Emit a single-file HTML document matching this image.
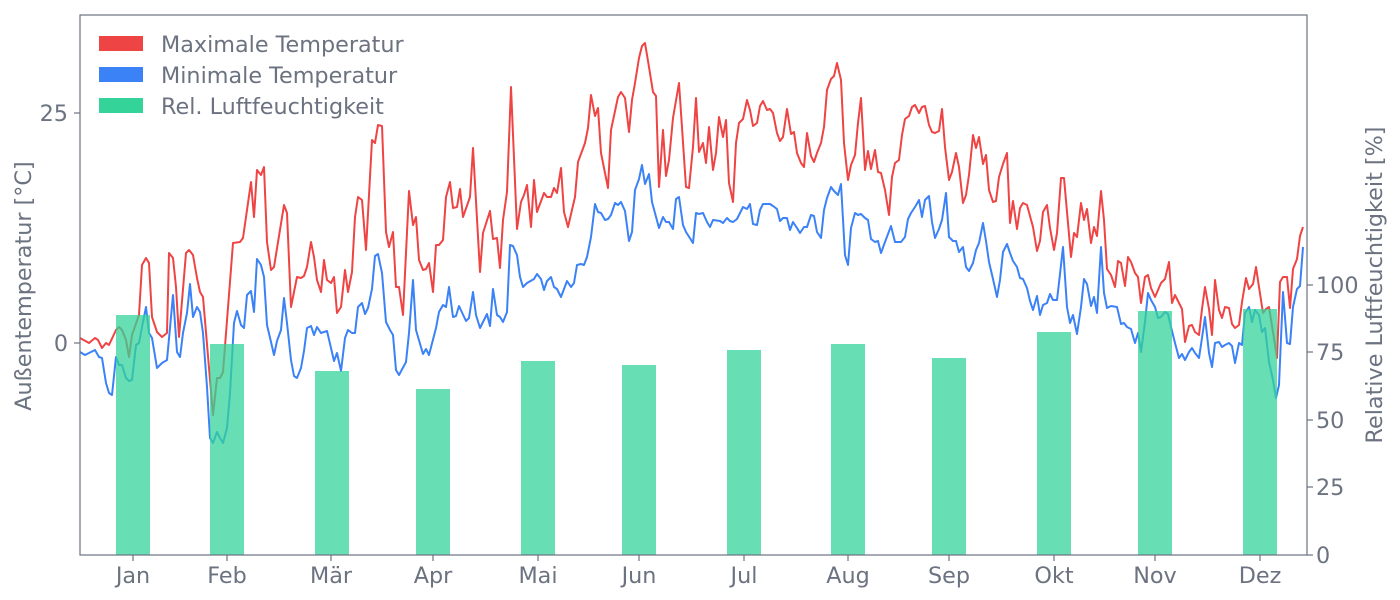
<!DOCTYPE html>
<html><head><meta charset="utf-8"><style>
html,body{margin:0;padding:0;background:#fff;}
svg{display:block;font-family:"DejaVu Sans","Liberation Sans",sans-serif;}
</style></head><body>
<svg width="1400" height="600" viewBox="0 0 1400 600">
<g fill="none" stroke-width="2" stroke-linejoin="round">
<polyline stroke="#ef4444" points="80,338 89,343 95,338 98,340 102,348 106,343 109,345 116,330 119,327 122,330 126,340 129,357 132,335 139,315 142,265 146,258 149,263 152,317 157,332 162,337 167,333 169,253 173,258 176,287 179,337 186,253 189,250 193,255 197,278 200,292 203,297 213,415 217,378 220,378 223,372 233,243 240,242 243,238 251,182 254,217 257,170 261,175 264,167 267,242 271,270 274,267 284,205 287,213 291,307 297,277 301,278 304,276 307,267 311,242 314,257 317,280 321,292 324,260 327,280 331,283 334,277 337,313 341,307 345,270 348,292 352,272 355,217 358,197 362,200 366,250 372,140 375,143 378,125 382,126 386,232 389,247 393,232 396,287 399,287 403,315 409,191 413,225 416,217 419,260 423,270 426,269 429,263 433,292 436,245 439,245 443,240 446,197 450,182 453,208 457,207 460,189 463,217 470,197 473,148 480,272 483,233 490,211 493,239 497,238 500,268 503,220 507,192 511,87 517,229 521,202 524,195 527,185 531,227 534,180 537,212 544,193 547,197 551,197 554,188 557,193 561,168 564,212 568,227 575,197 578,162 585,143 588,128 591,95 595,116 598,108 601,153 608,188 611,130 618,97 621,92 625,98 629,132 632,100 635,83 639,58 642,46 645,43 649,67 653,92 656,96 659,187 663,130 666,176 669,160 673,118 679,83 686,187 689,188 693,147 696,98 699,152 703,143 706,163 709,127 713,170 716,153 719,117 723,137 726,120 729,183 733,202 736,143 739,123 743,119 747,100 750,110 753,126 757,123 760,106 763,101 767,110 770,109 773,113 777,133 780,141 783,137 787,109 791,134 794,132 797,153 801,163 804,167 807,133 811,156 814,162 817,153 821,143 824,127 827,90 831,79 834,76 837,63 841,80 844,143 848,180 851,165 855,155 858,123 861,98 865,170 868,151 871,169 875,150 878,172 881,173 885,190 889,215 892,177 895,163 899,160 902,135 905,119 909,116 912,107 915,105 919,113 922,107 925,106 929,125 932,132 935,133 939,131 942,109 945,147 949,180 952,172 956,153 959,167 963,203 966,195 969,175 973,135 976,148 979,137 983,164 986,155 989,190 993,202 996,201 999,177 1003,164 1007,153 1010,223 1013,201 1017,229 1020,208 1023,203 1027,205 1033,227 1037,251 1040,241 1043,212 1047,205 1050,228 1054,250 1057,233 1061,178 1064,178 1071,257 1074,233 1077,237 1081,203 1084,220 1087,209 1091,243 1094,227 1097,236 1101,191 1104,220 1107,269 1111,275 1115,287 1118,261 1121,263 1125,286 1128,257 1131,262 1135,273 1138,277 1141,303 1145,277 1148,275 1151,288 1155,297 1158,290 1161,283 1165,279 1169,262 1172,303 1175,295 1179,303 1182,309 1185,342 1189,326 1192,325 1195,332 1199,335 1202,309 1205,287 1209,309 1212,335 1215,280 1219,310 1222,318 1225,307 1229,308 1232,324 1235,328 1239,325 1242,302 1246,278 1249,289 1253,284 1256,267 1259,287 1263,313 1266,309 1269,307 1273,332 1277,358 1280,282 1283,277 1287,277 1290,308 1293,269 1297,259 1300,236 1303,227"/>
<polyline stroke="#3b82f6" points="80,352 85,355 89,353 95,350 99,357 102,358 106,383 109,393 112,395 116,357 119,365 122,365 126,378 129,381 132,380 136,345 139,343 142,327 146,307 149,333 152,338 157,368 162,363 167,360 170,328 173,295 177,352 180,357 183,333 187,313 190,284 193,317 197,307 200,312 203,333 207,387 210,438 213,443 217,432 220,438 223,443 227,428 230,393 234,323 237,311 241,325 244,328 247,295 251,291 254,312 257,259 261,265 264,277 267,325 271,342 274,355 277,341 281,330 284,298 287,323 291,360 294,376 297,378 301,368 304,351 307,328 311,326 314,335 317,327 321,333 327,331 331,348 334,361 337,353 341,371 345,338 348,330 352,333 355,333 358,307 362,303 365,314 368,308 372,289 375,256 378,254 382,273 386,322 390,330 393,335 396,370 399,375 406,362 409,333 413,280 416,330 423,354 426,349 429,355 436,328 439,312 443,305 446,307 449,287 453,317 456,316 459,306 466,321 469,318 473,292 476,315 480,328 487,314 490,326 493,289 497,315 500,317 503,322 507,312 510,245 513,246 517,255 520,277 523,287 527,283 534,279 537,274 541,279 544,290 547,281 551,277 554,287 557,289 561,297 567,281 571,287 574,283 577,265 581,264 584,265 587,257 591,237 595,204 598,212 601,213 605,220 608,219 611,215 615,203 618,205 621,202 625,211 629,241 632,232 635,190 639,179 642,165 645,184 649,174 652,202 659,228 663,217 666,222 669,222 673,229 676,199 679,197 683,225 686,232 693,243 696,213 699,214 703,213 707,222 710,227 713,220 720,221 723,223 727,218 730,221 733,222 737,219 740,213 743,207 747,209 750,204 753,224 757,225 760,210 763,204 770,204 773,206 777,209 780,221 783,218 787,218 790,230 793,222 797,228 800,233 804,227 807,227 811,215 814,216 817,232 821,238 824,210 827,198 831,187 834,191 838,195 841,184 845,255 848,265 851,228 855,213 858,215 861,214 865,218 868,220 871,239 875,242 878,241 881,253 885,242 891,226 895,242 901,242 905,237 908,219 911,213 915,207 919,200 922,217 925,200 929,196 932,222 935,238 939,229 942,220 946,193 949,237 953,241 956,241 959,252 963,247 966,267 969,271 973,263 976,250 979,243 983,223 986,241 989,262 993,279 997,297 1000,280 1003,252 1007,244 1010,253 1013,261 1017,267 1020,278 1023,279 1027,288 1030,301 1033,310 1037,296 1040,315 1043,305 1047,303 1050,294 1053,300 1057,300 1060,274 1063,247 1067,307 1070,323 1073,315 1077,334 1081,307 1084,279 1087,284 1091,306 1094,297 1097,313 1101,247 1104,293 1107,308 1111,306 1117,307 1121,324 1124,323 1127,327 1131,329 1135,343 1138,333 1141,352 1145,322 1148,293 1151,300 1155,307 1158,318 1161,317 1165,312 1168,314 1171,327 1175,343 1179,358 1182,354 1185,360 1189,352 1192,348 1195,353 1199,358 1202,338 1205,317 1209,353 1212,367 1215,343 1219,342 1222,347 1225,345 1229,343 1232,346 1235,363 1239,343 1242,345 1245,313 1249,307 1252,322 1255,310 1259,315 1262,332 1265,328 1269,362 1273,380 1276,398 1279,385 1283,292 1287,343 1290,344 1293,307 1297,289 1300,286 1303,247"/>
</g>
<g fill="#34d399" fill-opacity="0.75">
<rect x="116" y="315" width="34" height="240"/>
<rect x="210" y="344" width="34" height="211"/>
<rect x="315" y="371" width="34" height="184"/>
<rect x="416" y="389" width="34" height="166"/>
<rect x="521" y="361" width="34" height="194"/>
<rect x="622" y="365" width="34" height="190"/>
<rect x="727" y="350" width="34" height="205"/>
<rect x="831" y="344" width="34" height="211"/>
<rect x="932" y="358" width="34" height="197"/>
<rect x="1037" y="332" width="34" height="223"/>
<rect x="1138" y="311" width="34" height="244"/>
<rect x="1243" y="309" width="34" height="246"/>
</g>
<rect x="80" y="15" width="1227" height="540" fill="none" stroke="#6b7280" stroke-width="1.2"/>
<g stroke="#6b7280" stroke-width="1.2">
<line x1="74" y1="113" x2="80" y2="113"/><line x1="74" y1="343" x2="80" y2="343"/>
<line x1="1307" y1="555" x2="1313" y2="555"/><line x1="1307" y1="487" x2="1313" y2="487"/><line x1="1307" y1="420" x2="1313" y2="420"/><line x1="1307" y1="352" x2="1313" y2="352"/><line x1="1307" y1="285" x2="1313" y2="285"/>
<line x1="133" y1="555" x2="133" y2="561"/><line x1="227" y1="555" x2="227" y2="561"/><line x1="331" y1="555" x2="331" y2="561"/><line x1="433" y1="555" x2="433" y2="561"/><line x1="538" y1="555" x2="538" y2="561"/><line x1="639" y1="555" x2="639" y2="561"/><line x1="744" y1="555" x2="744" y2="561"/><line x1="848" y1="555" x2="848" y2="561"/><line x1="949" y1="555" x2="949" y2="561"/><line x1="1054" y1="555" x2="1054" y2="561"/><line x1="1155" y1="555" x2="1155" y2="561"/><line x1="1260" y1="555" x2="1260" y2="561"/>
</g>
<g fill="#6b7280" font-size="22.3">
<text x="68" y="121" text-anchor="end">25</text>
<text x="68" y="351" text-anchor="end">0</text>
<g text-anchor="start">
<text x="1316" y="563">0</text><text x="1316" y="495">25</text><text x="1316" y="428">50</text><text x="1316" y="360">75</text><text x="1316" y="293">100</text>
</g>
<g text-anchor="middle">
<text x="133" y="583">Jan</text><text x="227" y="583">Feb</text><text x="331" y="583">Mär</text><text x="433" y="583">Apr</text><text x="538" y="583">Mai</text><text x="639" y="583">Jun</text><text x="744" y="583">Jul</text><text x="848" y="583">Aug</text><text x="949" y="583">Sep</text><text x="1054" y="583">Okt</text><text x="1155" y="583">Nov</text><text x="1260" y="583">Dez</text>
</g>
<text transform="translate(31,286) rotate(-90)" text-anchor="middle">Außentemperatur [°C]</text>
<text transform="translate(1382,285) rotate(-90)" text-anchor="middle">Relative Luftfeuchtigkeit [%]</text>
<rect x="99" y="36" width="44" height="15" fill="#ef4444"/>
<rect x="99" y="67" width="44" height="15" fill="#3b82f6"/>
<rect x="99" y="98" width="44" height="15" fill="#34d399"/>
<text x="161" y="52">Maximale Temperatur</text>
<text x="161" y="83">Minimale Temperatur</text>
<text x="161" y="114">Rel. Luftfeuchtigkeit</text>
</g>
</svg>
</body></html>
